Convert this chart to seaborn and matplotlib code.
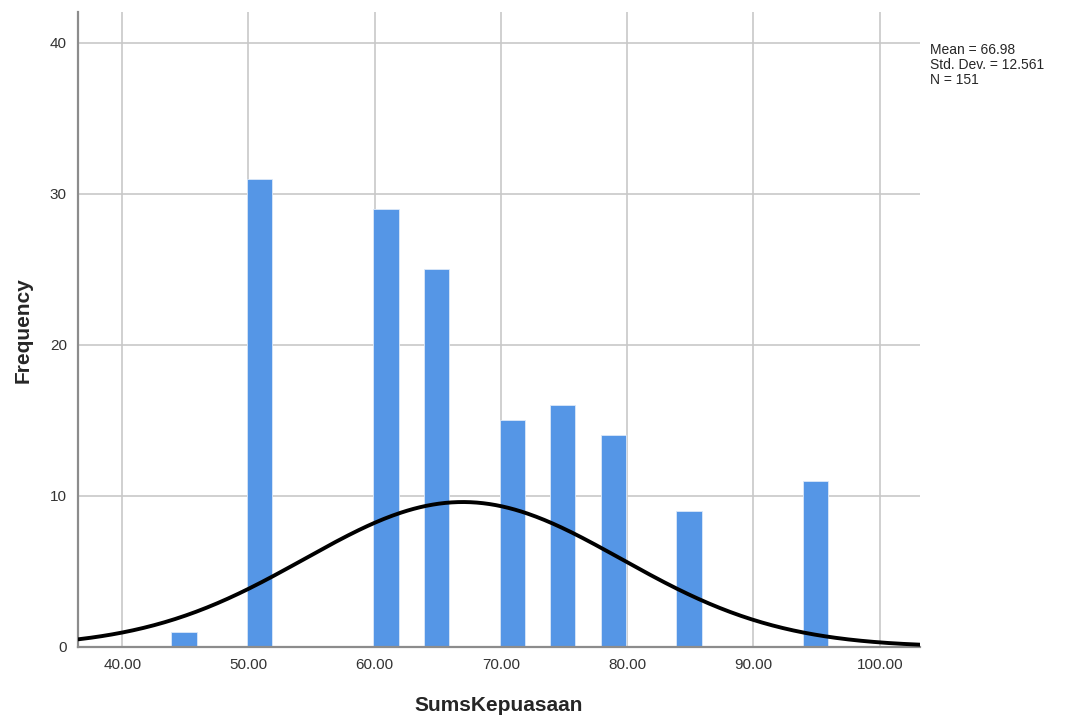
import matplotlib
matplotlib.use("Agg")
import matplotlib.pyplot as plt
import seaborn as sns
import numpy as np
import pandas as pd

# histogram bins (left edge, width 2) and their counts
bin_lefts = [44, 50, 60, 64, 70, 74, 78, 84, 94]
counts = [1, 31, 29, 25, 15, 16, 14, 9, 11]
bin_width = 2

# summary statistics printed in the chart
mean_val = 66.98
std_val = 12.561
n_val = 151

x_ticks = [40, 50, 60, 70, 80, 90, 100]
y_ticks = [0, 10, 20, 30, 40]

df = pd.DataFrame({"mid": [b + bin_width / 2 for b in bin_lefts], "count": counts})

sns.set_style("white")
plt.rcParams['font.family'] = ['Liberation Sans', 'DejaVu Sans']

fig = plt.figure(figsize=(10.72, 7.24), dpi=100)
ax = fig.add_axes([0.0728, 0.1064, 0.7855, 0.8766])

sns.histplot(data=df, x="mid", weights="count", binwidth=bin_width, binrange=(35.9, 103.9), ax=ax,
             color="#5596e6", alpha=1, edgecolor="#dce8f8", linewidth=0.6, zorder=2)

# normal curve scaled to counts
xs = np.linspace(36.5, 103.2, 400)
ys = n_val * bin_width * np.exp(-0.5 * ((xs - mean_val) / std_val) ** 2) / (std_val * np.sqrt(2 * np.pi))
sns.lineplot(x=xs, y=ys, ax=ax, color="black", linewidth=2.8, zorder=3)

ax.set_xlim(36.5, 103.2)
ax.set_ylim(0, 42)
ax.set_xticks(x_ticks)
ax.set_xticklabels([f"{t:.2f}" for t in x_ticks])
ax.set_yticks(y_ticks)
ax.grid(True, color="#c8c8c8", linewidth=1.2, zorder=0)
ax.set_axisbelow(True)
ax.tick_params(axis="both", labelsize=11, colors="#333333", length=0, pad=8)
for s in ["top", "right"]:
    ax.spines[s].set_visible(False)
for s in ["left", "bottom"]:
    ax.spines[s].set_color("#8c8c8c")
    ax.spines[s].set_linewidth(1.6)

ax.set_xlabel("SumsKepuasaan", fontsize=15, fontweight="bold")
ax.set_ylabel("Frequency", fontsize=15, fontweight="bold")
ax.xaxis.set_label_coords(0.5, -0.078)
ax.yaxis.set_label_coords(-0.054, 0.5)

fig.text(0.868, 0.941, f"Mean = {mean_val:.2f}\nStd. Dev. = {std_val:.3f}\nN = {n_val}",
         fontsize=10, va="top", ha="left", linespacing=1.1)

fig.savefig("out.png", dpi=100)
